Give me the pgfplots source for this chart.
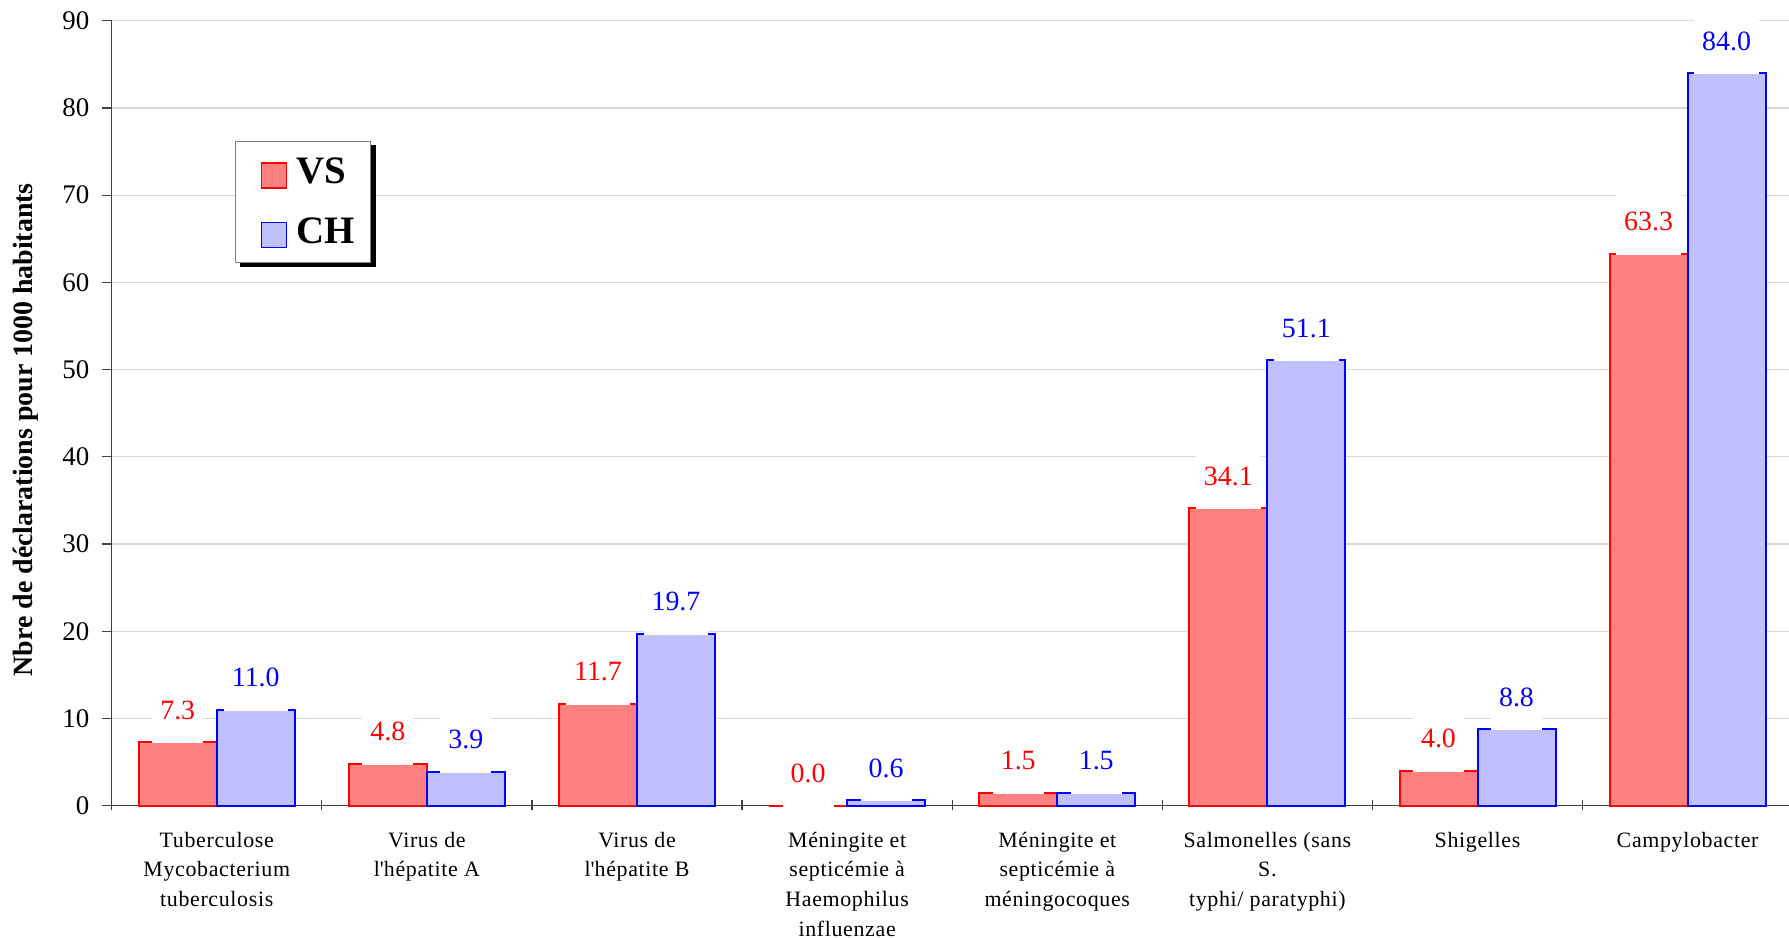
\documentclass[border=0pt]{standalone}
\usepackage{fontspec}
\setmainfont{Liberation Serif}
\newfontfamily\xlabfont{Liberation Serif}[LetterSpace=3]
\usepackage{pgfplots}
\pgfplotsset{compat=1.18}
\definecolor{vsfill}{HTML}{FF8080}
\definecolor{vsline}{HTML}{FF0000}
\definecolor{chfill}{HTML}{C0C0FF}
\definecolor{chline}{HTML}{0000FF}
\definecolor{gridgray}{HTML}{D9D9D9}
\definecolor{axisgray}{HTML}{404040}

\begin{document}
\begin{tikzpicture}
\begin{axis}[
  scale only axis, width=840.5bp, height=392.5bp,
  ybar=0pt, bar width=39bp,
  xmin=-0.5, xmax=7.5, ymin=0, ymax=90,
  axis x line*=bottom, axis y line*=left,
  axis line style={axisgray, line width=0.6bp},
  tick style={axisgray, line width=0.6bp},
  tick align=outside, major tick length=5bp,
  xtick={-0.5,0.5,...,6.5},
  xtick style={yshift=3bp},
  xticklabels={
    {Tuberculose\\Mycobacterium\\tuberculosis},
    {Virus de\\l\textquotesingle hépatite A},
    {Virus de\\l\textquotesingle hépatite B},
    {Méningite et\\septicémie à\\Haemophilus\\influenzae},
    {Méningite et\\septicémie à\\méningocoques},
    {Salmonelles (sans\\S.\\typhi/ paratyphi)},
    {Shigelles},
    {Campylobacter}},
  xticklabel style={font=\xlabfont\fontsize{11}{14.9}\selectfont, align=center,
    anchor=north, inner sep=0pt, xshift=52.53bp, yshift=-7.9bp},
  ytick={0,10,...,90},
  yticklabel style={font=\fontsize{13.5}{13.5}\selectfont, inner sep=0pt, xshift=-6bp},
  /pgf/number format/assume math mode=true,
  ymajorgrids, grid style={gridgray, line width=0.6bp},
  ylabel={Nbre de déclarations pour 1000 habitants},
  ylabel style={font=\fontsize{14}{14}\selectfont\bfseries,
    at={(axis description cs:-0.051,0.479)}, anchor=center},
  clip=false,
  nodes near coords={\pgfmathprintnumber[fixed,fixed zerofill,precision=1]{\pgfplotspointmeta}},
  every node near coord/.append style={font=\fontsize{14}{14}\selectfont,
    fill=white, inner xsep=4bp, inner ysep=0pt, minimum height=33bp,
    anchor=center, yshift=16bp},
  legend style={name=leg, at={(axis description cs:0,1)}, anchor=north west,
    xshift=61.65bp, yshift=-60.15bp, draw=gray, line width=0.5bp, fill=white,
    font=\fontsize{19.5}{19.5}\selectfont\bfseries,
    inner xsep=7.85bp, inner ysep=0.5bp, row sep=0pt,
    nodes={inner sep=0pt, minimum height=29.75bp}},
  legend cell align=left,
]
\addplot[fill=vsfill, draw=vsline, line width=1bp,
  every node near coord/.append style={text=vsline},
  legend image code/.code={\path[draw=none, fill=none] (-5bp,0bp) rectangle (17.85bp,0.1bp);
    \draw[fill=vsfill, draw=vsline, line width=0.6bp] (0bp,-7.85bp) rectangle (12.5bp,4.65bp);}]
  coordinates {(0,7.3) (1,4.8) (2,11.7) (3,0.0) (4,1.5) (5,34.1) (6,4.0) (7,63.3)};
\addlegendentry{VS}
\addplot[fill=chfill, draw=chline, line width=1bp,
  every node near coord/.append style={text=chline},
  legend image code/.code={\path[draw=none, fill=none] (-5bp,0bp) rectangle (17.85bp,0.1bp);
    \draw[fill=chfill, draw=chline, line width=0.6bp] (0bp,-7.85bp) rectangle (12.5bp,4.65bp);}]
  coordinates {(0,11.0) (1,3.9) (2,19.7) (3,0.6) (4,1.5) (5,51.1) (6,8.8) (7,84.0)};
\addlegendentry{CH}
\coordinate (O) at (rel axis cs:0,0);
\end{axis}
% legend shadow
\fill[black] ([yshift=-2.25bp]leg.north east) rectangle ([xshift=2.25bp,yshift=-2.25bp]leg.south east);
\fill[black] ([xshift=2.25bp]leg.south west) rectangle ([xshift=2.25bp,yshift=-2.25bp]leg.south east);
\pgfresetboundingbox
\path (O) ++(-55.85bp,-66.15bp) rectangle ++(894.5bp,469bp);
\end{tikzpicture}
\end{document}
